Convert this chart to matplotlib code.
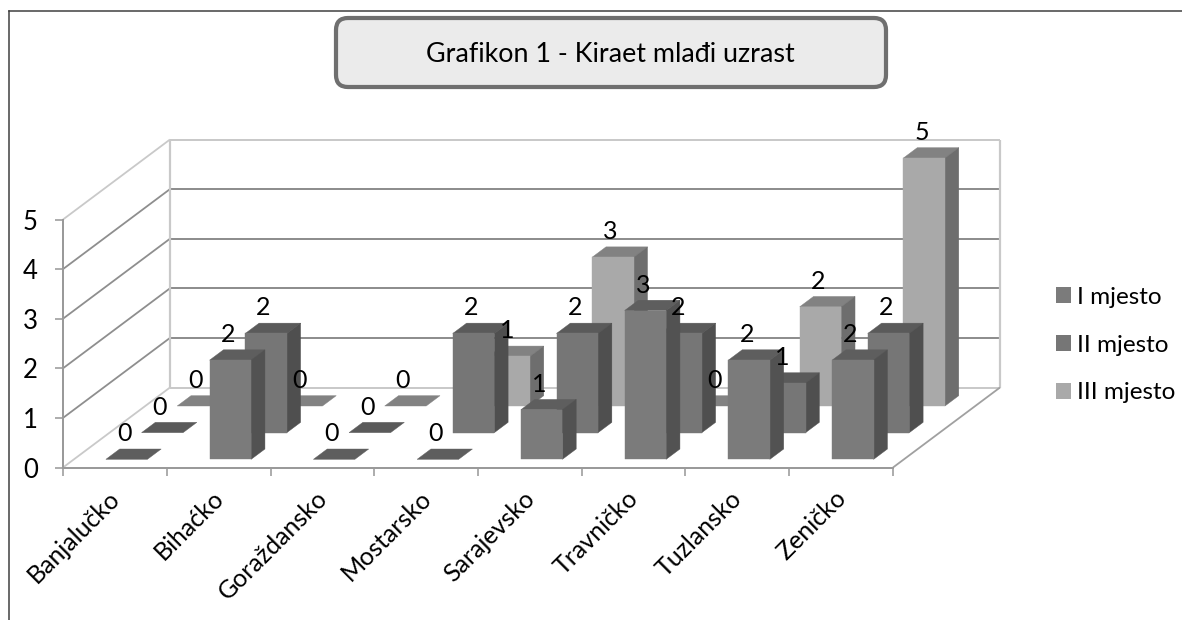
import matplotlib
matplotlib.use("Agg")
import matplotlib.pyplot as plt
from matplotlib.patches import Polygon, FancyBboxPatch, Patch
from matplotlib.lines import Line2D
from matplotlib.transforms import ScaledTranslation

plt.rcParams['font.family'] = ['Lato', 'DejaVu Sans']

categories = ['Banjalučko', 'Bihaćko', 'Goraždansko', 'Mostarsko',
              'Sarajevsko', 'Travničko', 'Tuzlansko', 'Zeničko']
series_names = ['I mjesto', 'II mjesto', 'III mjesto']
mjesto_1 = [0, 2, 0, 0, 1, 3, 2, 2]
mjesto_2 = [0, 2, 0, 2, 2, 2, 1, 2]
mjesto_3 = [0, 0, 0, 1, 3, 0, 2, 5]
value_ticks = [0, 1, 2, 3, 4, 5]
title_text = 'Grafikon 1 - Kiraet mlađi uzrast'

W, H = 1182, 620
PX = 72 / 100
fig = plt.figure(figsize=(W / 100, H / 100), dpi=100, facecolor='white')
ax = fig.add_axes([63 / W, (H - 467.5) / H, 830 / W, 248 / H])
ax.set_xlim(0, len(categories))
ax.set_ylim(0, 5)
ax.patch.set_visible(False)

# oblique projection: depth 0..1 shifts x and y in data units
DX = 107 / (830 / 8)
DY = 80 / (248 / 5)


def proj(c, d, v):
    return c + d * DX, v + d * DY


def line(p, q, color, lw=1.9, z=1):
    ax.plot([p[0], q[0]], [p[1], q[1]], color=color, lw=lw * PX * 1.0,
            clip_on=False, zorder=z, solid_capstyle='butt')


LIGHT = '#c9c9c9'
GRID = '#8e8e8e'
n = len(categories)
for v in value_ticks:
    col = GRID if 0 < v < 5 else LIGHT
    line(proj(0, 1, v), proj(n, 1, v), col, 2.0)
    line(proj(0, 0, v), proj(0, 1, v), col, 1.8)
line(proj(0, 1, 0), proj(0, 1, 5), LIGHT, 2.2)
line(proj(n, 1, 0), proj(n, 1, 5), LIGHT, 2.2)
line(proj(n, 0, 0), proj(n, 1, 0), '#a0a0a0', 1.8)

FRONT = ['#7b7b7b', '#767676', '#a9a9a9']
SIDE = ['#525252', '#4f4f4f', '#6e6e6e']
TOP = ['#5e5e5e', '#5a5a5a', '#828282']
M = 0.308
BW = 0.40
BD = 0.129
GAP = (1 / 3 - BD) / 2
series = [mjesto_1, mjesto_2, mjesto_3]

z = 10
for k in [2, 1, 0]:
    d0 = k / 3 + GAP
    d1 = d0 + BD
    for i, val in enumerate(series[k]):
        c0 = i + M
        c1 = c0 + BW
        faces = [
            ([proj(c0, d0, val), proj(c1, d0, val), proj(c1, d1, val), proj(c0, d1, val)], TOP[k]),
        ]
        if val > 0:
            faces.append(([proj(c1, d0, 0), proj(c1, d1, 0), proj(c1, d1, val), proj(c1, d0, val)], SIDE[k]))
            faces.append(([proj(c0, d0, 0), proj(c1, d0, 0), proj(c1, d0, val), proj(c0, d0, val)], FRONT[k]))
        for pts, col in faces:
            ax.add_patch(Polygon(pts, closed=True, facecolor=col, edgecolor=col,
                                 lw=0.3, clip_on=False, zorder=z))
            z += 1

for k in range(3):
    d0 = k / 3 + GAP
    for i, val in enumerate(series[k]):
        ax.annotate(str(val), xy=proj(i + M + BW / 2, d0, val),
                    xytext=(-2.5 * PX, 25.5 * PX), textcoords='offset points',
                    ha='center', va='center', fontsize=18, color='black',
                    annotation_clip=False, zorder=500)

for s in ['top', 'right']:
    ax.spines[s].set_visible(False)
for s in ['left', 'bottom']:
    ax.spines[s].set_color('#9a9a9a')
    ax.spines[s].set_linewidth(2.0 * PX)
ax.set_yticks(value_ticks)
ax.tick_params(axis='y', length=8 * PX, width=1.6 * PX, color='#9a9a9a',
               labelsize=18.5, pad=17 * PX, labelcolor='black')
ax.set_xticks(range(n + 1))
ax.set_xticklabels([])
ax.tick_params(axis='x', which='major', length=8 * PX, width=1.6 * PX, color='#9a9a9a')
ax.set_xticks([i + 0.5 for i in range(n)], minor=True)
ax.set_xticklabels(categories, minor=True, rotation=45, ha='right', va='top',
                   rotation_mode='anchor', fontsize=18)
ax.tick_params(axis='x', which='minor', length=0, pad=20 * PX)
shift = ScaledTranslation(-7 / 100, 1 / 100, fig.dpi_scale_trans)
for lab in ax.get_xticklabels(minor=True):
    lab.set_transform(lab.get_transform() + shift)

handles = [Patch(facecolor=FRONT[i], edgecolor='none') for i in range(3)]
fig.legend(handles, series_names, loc='center left',
           bbox_to_anchor=(1056 / W, (H - 345) / H), frameon=False,
           fontsize=17.5, handlelength=0.62, handleheight=0.62, handletextpad=0.26,
           labelspacing=1.1, borderpad=0, borderaxespad=0)

# outer frame
fig.add_artist(Line2D([8.5 / W, 8.5 / W], [0, (H - 11) / H], color='#3c3c3c', lw=1.5 * PX))
fig.add_artist(Line2D([8.5 / W, 1], [(H - 11) / H, (H - 11) / H], color='#3c3c3c', lw=1.5 * PX))

# title box
box = FancyBboxPatch((3.36, (H - 87) / 100), 5.50, 0.69,
                     boxstyle='round,pad=0,rounding_size=0.12',
                     transform=fig.dpi_scale_trans, facecolor='#ebebeb',
                     edgecolor='#6f6f6f', lw=4.2 * PX)
fig.add_artist(box)
fig.text(610 / W, (H - 54) / H, title_text, ha='center', va='center',
         fontsize=19.4, color='black')

fig.savefig('out.png', dpi=100, facecolor='white')
